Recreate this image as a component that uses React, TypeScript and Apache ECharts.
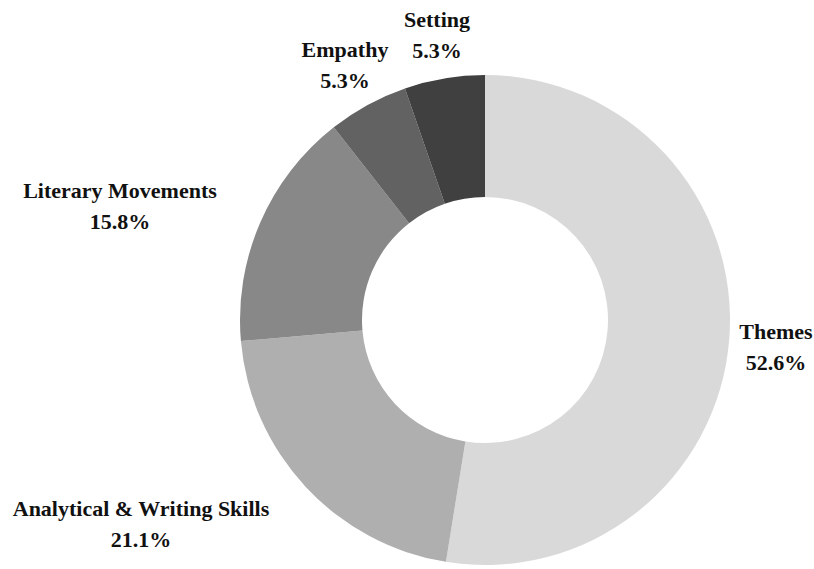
import React, { useEffect, useRef } from "react";
import * as echarts from "echarts";

const categories = ["Themes", "Analytical & Writing Skills", "Literary Movements", "Empathy", "Setting"];
const percents = [52.6, 21.1, 15.8, 5.3, 5.3];
const colors = ["#d9d9d9", "#afafaf", "#888888", "#626262", "#404040"];
// label block centres (text placement only)
const labelCenters: [number, number][] = [
  [776, 347],
  [141, 524],
  [120, 206],
  [345, 65],
  [437, 35],
];

export default function App() {
  const ref = useRef<HTMLDivElement>(null);
  useEffect(() => {
    if (!ref.current) return;
    const chart = echarts.init(ref.current, null, { renderer: "svg" });
    chart.setOption({
      animation: false,
      backgroundColor: "#ffffff",
      series: [
        {
          type: "pie",
          center: [485, 320],
          radius: [123, 245],
          startAngle: 90,
          clockwise: true,
          avoidLabelOverlap: false,
          itemStyle: { borderWidth: 0 },
          emphasis: { disabled: true },
          label: {
            show: true,
            position: "outside",
            formatter: (p: any) => `${p.name}\n${p.value.toFixed(1)}%`,
            fontFamily: "'Liberation Serif', 'Times New Roman', serif",
            fontWeight: "bold",
            fontSize: 22,
            lineHeight: 31,
            color: "#111111",
            align: "center",
          },
          labelLine: { show: false },
          labelLayout: (p: any) => {
            const c = labelCenters[p.dataIndex];
            return { x: c[0], y: c[1], align: "center", verticalAlign: "middle" };
          },
          data: categories.map((name, i) => ({
            name,
            value: percents[i],
            itemStyle: { color: colors[i] },
          })),
        },
      ],
    });
    return () => chart.dispose();
  }, []);
  return (
    <div
      ref={ref}
      style={{ position: "fixed", left: 0, top: 0, width: 814, height: 569, background: "#fff" }}
    />
  );
}
